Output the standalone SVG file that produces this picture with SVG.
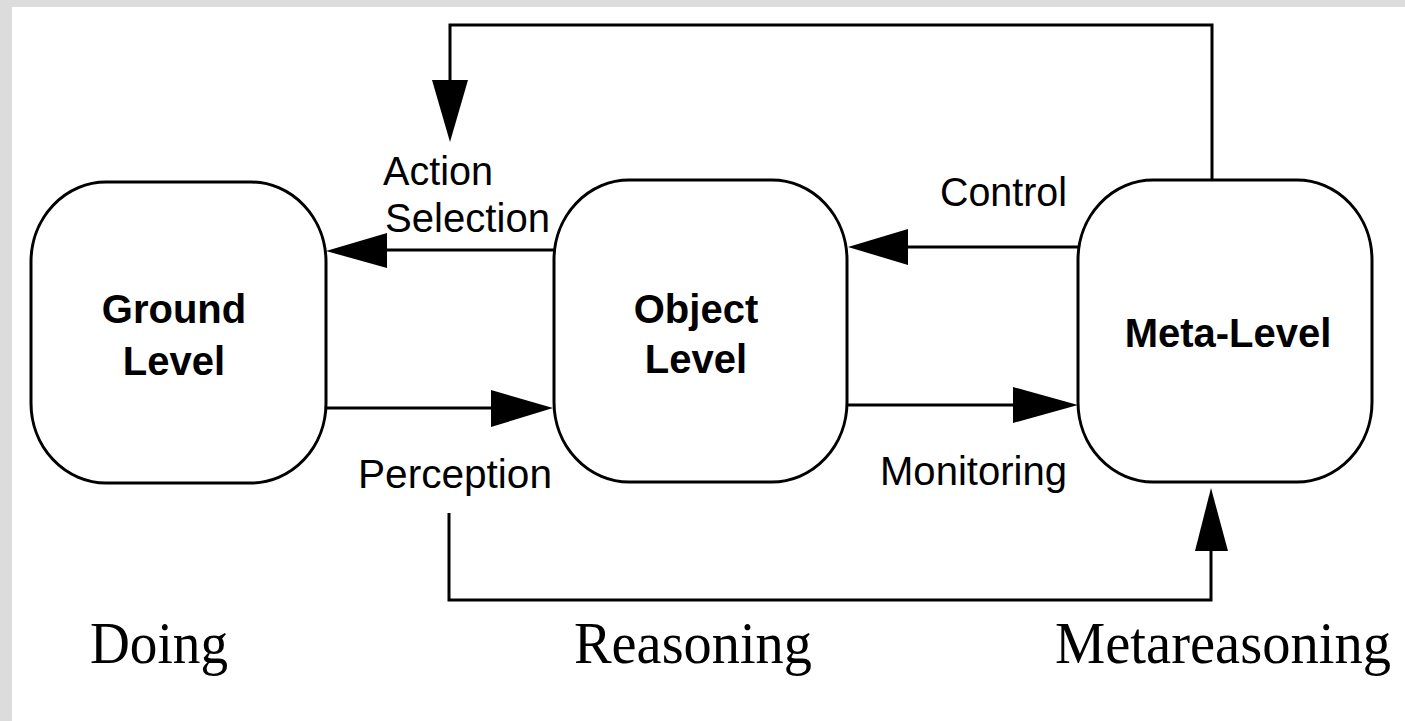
<svg xmlns="http://www.w3.org/2000/svg" width="1405" height="721" viewBox="0 0 1405 721">
<style>
.box{fill:#fff;stroke:#000;stroke-width:3}
.ln{fill:none;stroke:#000;stroke-width:3}
.hd{fill:#000;stroke:none}
.nl{font-family:"Liberation Sans",Arial,sans-serif;font-weight:bold;font-size:40px;fill:#000;text-anchor:middle}
.el{font-family:"Liberation Sans",Arial,sans-serif;font-size:40px;fill:#000}
.sl{font-family:"Liberation Serif","Times New Roman",serif;font-size:59px;fill:#000}
</style>
<rect x="0" y="0" width="1405" height="721" fill="#fff"/>
<rect x="0" y="0" width="1405" height="7" fill="#dcdcdc"/>
<rect x="0" y="0" width="12" height="721" fill="#dcdcdc"/>
<g id="connectors">
<polyline class="ln" points="1212,180 1212,25 450,25 450,82"/>
<polygon class="hd" points="432,80 468,80 450,142"/>
<polyline class="ln" points="449,513 449,600 1211,600 1211,549"/>
<polygon class="hd" points="1195,551 1228,551 1211,488"/>
<line class="ln" x1="554" y1="250" x2="385" y2="250"/>
<polygon class="hd" points="387,233 387,268 326,251"/>
<line class="ln" x1="326" y1="408" x2="493" y2="408"/>
<polygon class="hd" points="491,390 491,427 553,408"/>
<line class="ln" x1="1078" y1="247" x2="906" y2="247"/>
<polygon class="hd" points="908,229 908,265 848,247"/>
<line class="ln" x1="847" y1="405" x2="1015" y2="405"/>
<polygon class="hd" points="1013,387 1013,423 1078,405"/>
<text class="el" x="383" y="185" textLength="110" lengthAdjust="spacingAndGlyphs">Action</text>
<text class="el" x="385" y="232" textLength="165" lengthAdjust="spacingAndGlyphs">Selection</text>
<text class="el" x="940" y="206" textLength="127" lengthAdjust="spacingAndGlyphs">Control</text>
<text class="el" x="358" y="488" textLength="194" lengthAdjust="spacingAndGlyphs">Perception</text>
<text class="el" x="880" y="485" textLength="187" lengthAdjust="spacingAndGlyphs">Monitoring</text>
</g>
<g id="ground">
<rect class="box" x="31" y="182" width="295" height="301" rx="75" ry="80"/>
<text class="nl" x="174" y="323">Ground</text>
<text class="nl" x="174" y="375">Level</text>
</g>
<g id="object">
<rect class="box" x="554" y="180" width="293" height="302" rx="75" ry="80"/>
<text class="nl" x="696" y="323">Object</text>
<text class="nl" x="696" y="373">Level</text>
</g>
<g id="meta">
<rect class="box" x="1078" y="180" width="294" height="302" rx="75" ry="80"/>
<text class="nl" x="1228" y="347">Meta-Level</text>
</g>
<g id="layers">
<text class="sl" x="90" y="663" textLength="138" lengthAdjust="spacingAndGlyphs">Doing</text>
<text class="sl" x="574" y="663" textLength="238" lengthAdjust="spacingAndGlyphs">Reasoning</text>
<text class="sl" x="1055" y="663" textLength="336" lengthAdjust="spacingAndGlyphs">Metareasoning</text>
</g>
</svg>
